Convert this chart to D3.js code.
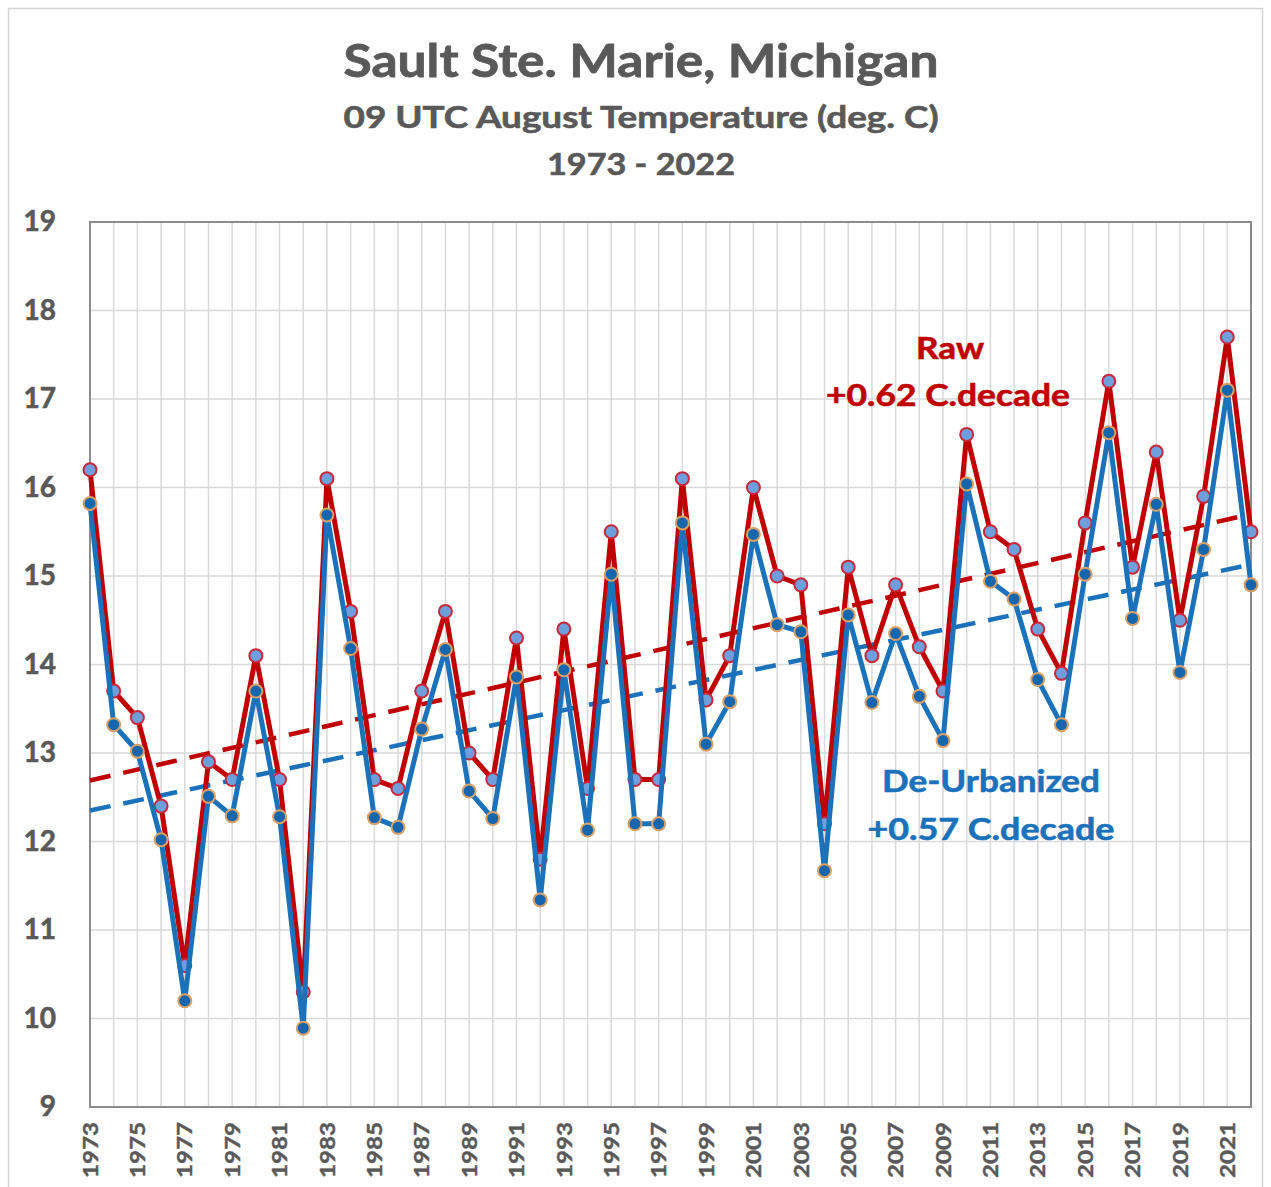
<!DOCTYPE html>
<html>
<head>
<meta charset="utf-8">
<script src="https://cdn.jsdelivr.net/npm/d3@7"></script>
<style>
  html, body { margin: 0; padding: 0; background: #fff; }
  svg { display: block; }
  text { font-family: Lato, "Open Sans", "DejaVu Sans", sans-serif; font-weight: 700; }
</style>
</head>
<body>
<svg id="chart" width="1271" height="1187"></svg>
<script>
// ---------------- DATA ----------------
const years = [1973,1974,1975,1976,1977,1978,1979,1980,1981,1982,
               1983,1984,1985,1986,1987,1988,1989,1990,1991,1992,
               1993,1994,1995,1996,1997,1998,1999,2000,2001,2002,
               2003,2004,2005,2006,2007,2008,2009,2010,2011,2012,
               2013,2014,2015,2016,2017,2018,2019,2020,2021,2022];

const rawTemps = [16.2,13.7,13.4,12.4,10.6,12.9,12.7,14.1,12.7,10.3,
                  16.1,14.6,12.7,12.6,13.7,14.6,13.0,12.7,14.3,11.8,
                  14.4,12.6,15.5,12.7,12.7,16.1,13.6,14.1,16.0,15.0,
                  14.9,12.2,15.1,14.1,14.9,14.2,13.7,16.6,15.5,15.3,
                  14.4,13.9,15.6,17.2,15.1,16.4,14.5,15.9,17.7,15.5];

const deUrbTemps = [15.82,13.32,13.02,12.02,10.20,12.51,12.29,13.70,12.28,9.89,
                    15.69,14.18,12.27,12.16,13.27,14.17,12.57,12.26,13.86,11.34,
                    13.94,12.13,15.02,12.20,12.20,15.60,13.10,13.58,15.47,14.45,
                    14.37,11.67,14.56,13.57,14.35,13.64,13.14,16.04,14.94,14.74,
                    13.83,13.32,15.02,16.62,14.52,15.81,13.91,15.30,17.10,14.90];

// linear trend end values (1973, 2022) as drawn in the original
const trendYears = [1973, 2022];
const rawTrend = [12.69, 15.70];
const deUrbTrend = [12.35, 15.13];

const yTicks = [9,10,11,12,13,14,15,16,17,18,19];
const xTickYears = [1973,1975,1977,1979,1981,1983,1985,1987,1989,1991,1993,1995,1997,
                    1999,2001,2003,2005,2007,2009,2011,2013,2015,2017,2019,2021];

const titleLines = ["Sault Ste. Marie, Michigan", "09 UTC August  Temperature (deg. C)", "1973 - 2022"];
const rawLabel = ["Raw", "+0.62 C.decade"];
const deUrbLabel = ["De-Urbanized", "+0.57 C.decade"];

// ---------------- DRAW ----------------
const svg = d3.select("#chart");
const W = 1271, H = 1187;
const L = 90, R = 1251, T = 222, B = 1107;

const x = d3.scaleLinear().domain([1973, 2022]).range([L, R]);
const y = d3.scaleLinear().domain([9, 19]).range([B, T]);

const RED = "#c00000", BLUE = "#1b72ba", GREY = "#595959";

svg.append("rect").attr("width", W).attr("height", H).attr("fill", "#fff");
svg.append("rect").attr("x", 8.5).attr("y", 8.5).attr("width", 1254).attr("height", 1200)
   .attr("fill", "none").attr("stroke", "#d4d4d4").attr("stroke-width", 1.5);

// titles
const tt = svg.append("g").attr("fill", GREY).attr("stroke", GREY).attr("stroke-width", 0.8)
  .attr("text-anchor", "middle");
tt.append("text").attr("x", 641).attr("y", 77).attr("font-size", 46)
  .attr("textLength", 595).attr("lengthAdjust", "spacingAndGlyphs").text(titleLines[0]);
tt.append("text").attr("x", 641).attr("y", 128).attr("font-size", 31).attr("stroke-width", 0.6)
  .attr("textLength", 595).attr("lengthAdjust", "spacingAndGlyphs").text(titleLines[1]);
tt.append("text").attr("x", 641).attr("y", 175).attr("font-size", 30).attr("stroke-width", 0.6)
  .attr("textLength", 188).attr("lengthAdjust", "spacingAndGlyphs").text(titleLines[2]);

// gridlines
const grid = svg.append("g").attr("stroke", "#d9d9d9").attr("stroke-width", 1.5);
grid.selectAll("line.v").data(years).join("line")
  .attr("x1", d => x(d)).attr("x2", d => x(d)).attr("y1", T).attr("y2", B);
grid.selectAll("line.h").data(yTicks).join("line")
  .attr("x1", L).attr("x2", R).attr("y1", d => y(d)).attr("y2", d => y(d));

// frame
svg.append("rect").attr("x", L).attr("y", T).attr("width", R - L).attr("height", B - T)
  .attr("fill", "none").attr("stroke", "#8c8c8c").attr("stroke-width", 2);

// y axis
const yAxis = svg.append("g").attr("transform", `translate(${L},0)`)
  .call(d3.axisLeft(y).tickValues(yTicks).tickSize(0).tickPadding(34).tickFormat(d3.format("d")));
yAxis.select(".domain").remove();
yAxis.selectAll("text").attr("fill", GREY).attr("stroke", GREY).attr("stroke-width", 0.6)
  .attr("font-size", 28)
  .style("font-family", "Lato, 'Open Sans', sans-serif").style("font-weight", 700);

// x axis
const xAxis = svg.append("g").attr("transform", `translate(0,${B})`)
  .call(d3.axisBottom(x).tickValues(xTickYears).tickSize(0).tickFormat(d3.format("d")));
xAxis.select(".domain").remove();
xAxis.selectAll("text")
  .attr("transform", "rotate(-90)").attr("x", -15).attr("y", 0).attr("dy", "0.36em")
  .style("text-anchor", "end").attr("fill", GREY).attr("stroke", GREY).attr("stroke-width", 0.4)
  .attr("font-size", 20)
  .attr("textLength", 56).attr("lengthAdjust", "spacingAndGlyphs")
  .style("font-family", "Lato, 'Open Sans', sans-serif").style("font-weight", 700);

// trend lines
const trendLine = d3.line().x((d, i) => x(trendYears[i])).y(d => y(d));
svg.append("path").datum(rawTrend).attr("d", trendLine)
  .attr("fill", "none").attr("stroke", RED).attr("stroke-width", 4.5).attr("stroke-dasharray", "21,13");
svg.append("path").datum(deUrbTrend).attr("d", trendLine)
  .attr("fill", "none").attr("stroke", BLUE).attr("stroke-width", 4.5).attr("stroke-dasharray", "21,13");

// series
const line = d3.line().x((d, i) => x(years[i])).y(d => y(d));
svg.append("path").datum(rawTemps).attr("d", line)
  .attr("fill", "none").attr("stroke", RED).attr("stroke-width", 5).attr("stroke-linejoin", "round");
svg.append("g").selectAll("circle").data(rawTemps).join("circle")
  .attr("cx", (d, i) => x(years[i])).attr("cy", d => y(d)).attr("r", 6.5)
  .attr("fill", "#6e9fdc").attr("stroke", "#c8283a").attr("stroke-width", 2);

svg.append("path").datum(deUrbTemps).attr("d", line)
  .attr("fill", "none").attr("stroke", BLUE).attr("stroke-width", 5).attr("stroke-linejoin", "round");
svg.append("g").selectAll("circle").data(deUrbTemps).join("circle")
  .attr("cx", (d, i) => x(years[i])).attr("cy", d => y(d)).attr("r", 6.5)
  .attr("fill", "#1666ae").attr("stroke", "#d9a066").attr("stroke-width", 2);

// annotations
const ra = svg.append("g").attr("fill", RED).attr("stroke", RED).attr("stroke-width", 0.6)
  .attr("text-anchor", "middle").attr("font-size", 31);
ra.append("text").attr("x", 950).attr("y", 359).attr("textLength", 68).attr("lengthAdjust", "spacingAndGlyphs").text(rawLabel[0]);
ra.append("text").attr("x", 948).attr("y", 406).attr("textLength", 244).attr("lengthAdjust", "spacingAndGlyphs").text(rawLabel[1]);
const ba = svg.append("g").attr("fill", BLUE).attr("stroke", BLUE).attr("stroke-width", 0.6)
  .attr("text-anchor", "middle").attr("font-size", 31);
ba.append("text").attr("x", 991).attr("y", 792).attr("textLength", 218).attr("lengthAdjust", "spacingAndGlyphs").text(deUrbLabel[0]);
ba.append("text").attr("x", 991).attr("y", 840).attr("textLength", 247).attr("lengthAdjust", "spacingAndGlyphs").text(deUrbLabel[1]);
</script>
</body>
</html>
